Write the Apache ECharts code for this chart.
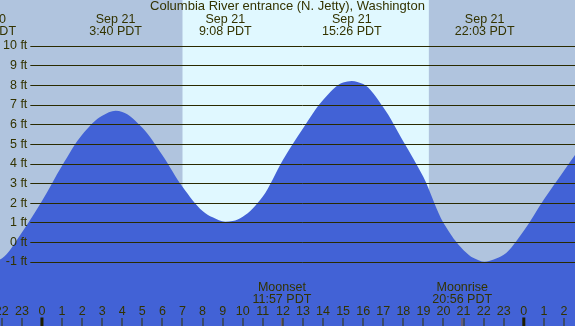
<!DOCTYPE html>
<html><head><meta charset="utf-8">
<script src="https://cdn.jsdelivr.net/npm/echarts@6/dist/echarts.min.js"></script>
<style>html,body{margin:0;padding:0;background:#b0c4de}#c{width:575px;height:326px}</style>
</head><body><div id="c"></div>
<script>
// ---- data ----
const chartTitle = 'Columbia River entrance (N. Jetty), Washington';
const tideHours = [-3, -2.78, -2, -1, 0, 1, 2, 3, 3.67, 4, 5, 6, 7, 8, 8.5, 9.13, 9.5, 10, 11, 12, 13, 14, 15, 15.43, 16, 17, 18, 19, 20, 21, 21.5, 22.05, 22.5, 23, 24, 25, 26, 27];
const tideFeet  = [-1.13, -1.15, -0.82, 0.5, 2.1, 3.9, 5.48, 6.45, 6.7, 6.64, 5.84, 4.44, 2.83, 1.6, 1.27, 1.05, 1.08, 1.3, 2.33, 4.19, 5.8, 7.25, 8.14, 8.22, 8.06, 6.88, 5.14, 3.32, 0.98, -0.4, -0.8, -0.99, -0.88, -0.64, 0.59, 2.18, 3.65, 5.1];
const extremeHours = [-2.78, 3.667, 9.133, 15.433, 22.05];
const extremeDates = ['Sep 20', 'Sep 21', 'Sep 21', 'Sep 21', 'Sep 21'];
const extremeTimes = ['21:13 PDT', '3:40 PDT', '9:08 PDT', '15:26 PDT', '22:03 PDT'];
const daylightSpans = [[7.0, 19.27]];
const moonHours = [11.95, 20.933];
const moonNames = ['Moonset', 'Moonrise'];
const moonTimes = ['11:57 PDT', '20:56 PDT'];
const midnightHours = [0, 24];
const hourTicks = [-2, -1, 0, 1, 2, 3, 4, 5, 6, 7, 8, 9, 10, 11, 12, 13, 14, 15, 16, 17, 18, 19, 20, 21, 22, 23, 24, 25, 26];
const hourLabels = ['22', '23', '0', '1', '2', '3', '4', '5', '6', '7', '8', '9', '10', '11', '12', '13', '14', '15', '16', '17', '18', '19', '20', '21', '22', '23', '0', '1', '2'];
const feetTickMin = -1, feetTickMax = 10;

// ---- styles ----
const FONT = 'Liberation Sans';
const TXT = '#333300';
const FILL = '#4262d6';
const DAY = '#e0f8ff';
const NIGHT = '#b0c4de';

const chart = echarts.init(document.getElementById('c'), null, {renderer: 'canvas'});
const font = (s) => s + 'px "' + FONT + '"';

// monotone cubic (Fritsch-Butland) tangents for the smooth tide outline
function tangents(xs, ys) {
  const n = xs.length, d = [], h = [], m = new Array(n);
  for (let i = 0; i < n - 1; i++) { h[i] = xs[i + 1] - xs[i]; d[i] = (ys[i + 1] - ys[i]) / h[i]; }
  m[0] = d[0]; m[n - 1] = d[n - 2];
  for (let i = 1; i < n - 1; i++) {
    const d0 = d[i - 1], d1 = d[i];
    if (d0 * d1 <= 0) { m[i] = 0; }
    else { const h0 = h[i - 1], h1 = h[i]; m[i] = 3 * (h0 + h1) / ((2 * h1 + h0) / d0 + (h1 + 2 * h0) / d1); }
  }
  return m;
}
const tideSlopes = tangents(tideHours, tideFeet);

const option = {
  animation: false,
  backgroundColor: NIGHT,
  title: {
    text: chartTitle, left: 'center', top: 0, padding: 0,
    textStyle: {fontFamily: FONT, fontSize: 13, fontWeight: 'normal', color: TXT}
  },
  grid: [
    {left: 0, right: 0, top: 0, bottom: 0},
    {left: 29.5, right: 0, top: 46, height: 216}
  ],
  xAxis: [
    {gridIndex: 0, type: 'value', min: -2.09, max: 26.55, show: false},
    {gridIndex: 1, type: 'value', min: 0, max: 1, show: false}
  ],
  yAxis: [
    {gridIndex: 0, type: 'value', min: -4.264, max: 12.343, show: false},
    {gridIndex: 1, type: 'value', min: feetTickMin, max: feetTickMax, interval: 1, z: 4,
     axisLine: {show: false}, axisTick: {show: false},
     splitLine: {show: true, lineStyle: {color: '#2a2a00', width: 1}},
     axisLabel: {margin: 3, color: TXT, fontFamily: FONT, fontSize: 12.5, formatter: '{value} ft'}}
  ],
  series: [
    { // daylight band
      type: 'custom', xAxisIndex: 0, yAxisIndex: 0, z: 1, silent: true,
      data: daylightSpans.map(s => [s[0], s[1]]),
      encode: {x: [0, 1]},
      renderItem: (params, api) => {
        const x0 = api.coord([api.value(0), 0])[0];
        const x1 = api.coord([api.value(1), 0])[0];
        const cs = params.coordSys;
        return {type: 'rect', shape: {x: x0, y: cs.y, width: x1 - x0, height: cs.height}, style: {fill: DAY}};
      }
    },
    { // tide area (smooth curve through the read points, mapped by the axes)
      type: 'custom', xAxisIndex: 0, yAxisIndex: 0, z: 2, silent: true, clip: true,
      data: [[tideHours[0], tideFeet[0]]],
      encode: {x: 0, y: 1},
      renderItem: (params, api) => {
        const cs = params.coordSys;
        const P = (x, y) => api.coord([x, y]);
        let p = P(tideHours[0], tideFeet[0]);
        let d = 'M' + p[0] + ' ' + p[1];
        for (let i = 0; i < tideHours.length - 1; i++) {
          const x0 = tideHours[i], x1 = tideHours[i + 1], y0 = tideFeet[i], y1 = tideFeet[i + 1];
          const hh = (x1 - x0) / 3;
          const c1 = P(x0 + hh, y0 + tideSlopes[i] * hh);
          const c2 = P(x1 - hh, y1 - tideSlopes[i + 1] * hh);
          const e = P(x1, y1);
          d += ' C' + c1[0] + ' ' + c1[1] + ' ' + c2[0] + ' ' + c2[1] + ' ' + e[0] + ' ' + e[1];
        }
        const last = P(tideHours[tideHours.length - 1], 0)[0];
        const first = P(tideHours[0], 0)[0];
        const yb = cs.y + cs.height + 5;
        d += ' L' + last + ' ' + yb + ' L' + first + ' ' + yb + ' Z';
        return {type: 'path', shape: {pathData: d}, style: {fill: FILL, stroke: null}};
      }
    },
    { // high/low labels
      type: 'custom', xAxisIndex: 0, yAxisIndex: 0, z: 7, silent: true, clip: false,
      data: extremeHours.map(h => [h, 0]),
      encode: {x: 0, y: 1},
      renderItem: (params, api) => {
        const x = api.coord([api.value(0), 0])[0];
        const i = params.dataIndex;
        return {type: 'group', children: [
          {type: 'text', x: x, y: 19.5, style: {text: extremeDates[i], fill: TXT, font: font(12.5), align: 'center', verticalAlign: 'middle'}},
          {type: 'text', x: x, y: 31.5, style: {text: extremeTimes[i], fill: TXT, font: font(12.5), align: 'center', verticalAlign: 'middle'}}
        ]};
      }
    },
    { // moon labels + ticks
      type: 'custom', xAxisIndex: 0, yAxisIndex: 0, z: 5, silent: true, clip: false,
      data: moonHours.map(h => [h, 0]),
      encode: {x: 0, y: 1},
      renderItem: (params, api) => {
        const x = api.coord([api.value(0), 0])[0];
        const i = params.dataIndex;
        return {type: 'group', children: [
          {type: 'text', x: x, y: 287.5, style: {text: moonNames[i], fill: TXT, font: font(12.5), align: 'center', verticalAlign: 'middle'}},
          {type: 'text', x: x, y: 299.5, style: {text: moonTimes[i], fill: TXT, font: font(12.5), align: 'center', verticalAlign: 'middle'}},
          {type: 'rect', shape: {x: Math.round(x) - 0.5, y: 318, width: 1, height: 8}, style: {fill: '#8a5a1e'}}
        ]};
      }
    },
    { // hour ticks + labels
      type: 'custom', xAxisIndex: 0, yAxisIndex: 0, z: 6, silent: true, clip: false,
      data: hourTicks.map(h => [h, 0]),
      encode: {x: 0, y: 1},
      renderItem: (params, api) => {
        const x = api.coord([api.value(0), 0])[0];
        const i = params.dataIndex;
        return {type: 'group', children: [
          {type: 'text', x: x, y: 312, style: {text: hourLabels[i], fill: TXT, font: font(12.5), align: 'center', verticalAlign: 'middle'}},
          {type: 'rect', shape: {x: Math.round(x) - 0.5, y: 318, width: 1, height: 8}, style: {fill: TXT}}
        ]};
      }
    },
    { // midnight ticks
      type: 'custom', xAxisIndex: 0, yAxisIndex: 0, z: 8, silent: true, clip: false,
      data: midnightHours.map(h => [h, 0]),
      encode: {x: 0, y: 1},
      renderItem: (params, api) => {
        const x = api.coord([api.value(0), 0])[0];
        return {type: 'rect', shape: {x: x - 1.5, y: 317.5, width: 3, height: 9}, style: {fill: '#1e1e00'}};
      }
    }
  ]
};
chart.setOption(option);
</script></body></html>
